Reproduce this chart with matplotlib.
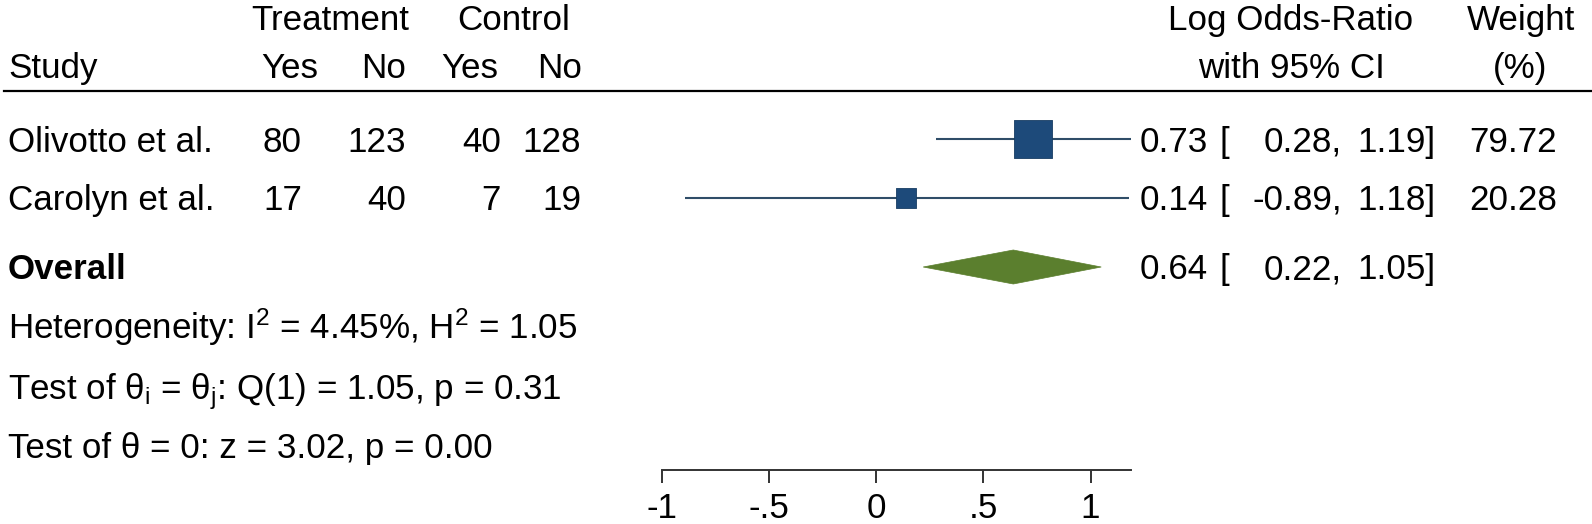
import matplotlib
matplotlib.use('Agg')
import matplotlib.pyplot as plt
from matplotlib.patches import Polygon

plt.rcParams['font.family'] = ['Liberation Sans', 'DejaVu Sans']
plt.rcParams['mathtext.fontset'] = 'custom'
plt.rcParams['mathtext.rm'] = 'Liberation Sans'
plt.rcParams['mathtext.it'] = 'Liberation Sans:italic'
plt.rcParams['mathtext.bf'] = 'Liberation Sans:bold'

# data
studies = ['Olivotto et al.', 'Carolyn et al.']
treat_yes = [80, 17]
treat_no = [123, 40]
ctrl_yes = [40, 7]
ctrl_no = [128, 19]
log_or = [0.73, 0.14]
ci_low = [0.28, -0.89]
ci_high = [1.19, 1.18]
weight = [79.72, 20.28]
overall = [0.64, 0.22, 1.05]
stats_lines = [r'Heterogeneity: I$^{2}$ = 4.45%, H$^{2}$ = 1.05',
               r'Test of θ$_{\mathrm{i}}$ = θ$_{\mathrm{j}}$: Q(1) = 1.05, p = 0.31',
               'Test of θ = 0: z = 3.02, p = 0.00']
tick_vals = [-1, -0.5, 0, 0.5, 1]
tick_labels = ['-1', '-.5', '0', '.5', '1']

# layout (pixels)
W, H = 1592, 524
x0, ppu = 876, 214.5          # pixel of 0 and pixels per unit
head_base = [30, 78]
row_y = [139, 198]
row_base = [152, 210]
over_y, over_base = 267, 279
stats_base = [339, 399, 458]
fs = 25.2
line_col = '#2f4d68'
box_col = '#1d4a7a'
dia_col = '#5b7f2e'

fig = plt.figure(figsize=(W / 100, H / 100), dpi=100)
ax = fig.add_axes([0, 0, 1, 1])
ax.set_xlim(-x0 / ppu, (W - x0) / ppu)
ax.set_ylim(H, 0)
ax.patch.set_alpha(0)
tx = fig.add_axes([0, 0, 1, 1])
tx.set_xlim(0, W)
tx.set_ylim(H, 0)
tx.axis('off')
tx.patch.set_alpha(0)

# forest marks
for i in range(len(studies)):
    ax.plot([ci_low[i], ci_high[i]], [row_y[i], row_y[i]], color=line_col, lw=1.5, solid_capstyle='butt')
ax.scatter(log_or, row_y, s=[9.4 * w for w in weight], marker='s', color=box_col,
           edgecolors='#173d63', linewidths=0.6, zorder=3)
est, lo, hi = overall
ax.add_patch(Polygon([(lo, over_y), (est, over_y - 17), (hi, over_y), (est, over_y + 17)],
                     closed=True, facecolor=dia_col, edgecolor=dia_col, lw=0.5))

# axis
for s in ['top', 'left', 'right']:
    ax.spines[s].set_visible(False)
ax.spines['bottom'].set_position(('data', 470))
ax.spines['bottom'].set_bounds(-1, max(ci_high))
ax.spines['bottom'].set_linewidth(1.4)
ax.spines['bottom'].set_color('#333333')
ax.set_yticks([])
ax.set_xticks(tick_vals, labels=tick_labels)
ax.tick_params(axis='x', length=9, width=1.4, color='#333333', pad=7, labelsize=fs)

# header
tx.text(330, head_base[0], 'Treatment', fontsize=fs, ha='center', va='baseline')
tx.text(514, head_base[0], 'Control', fontsize=fs, ha='center', va='baseline')
tx.text(8, head_base[1], 'Study', fontsize=fs, ha='left', va='baseline')
for xr, lab in zip([318, 406, 498, 582], ['Yes', 'No', 'Yes', 'No']):
    tx.text(xr, head_base[1], lab, fontsize=fs, ha='right', va='baseline')
tx.text(1291, head_base[0], 'Log Odds-Ratio', fontsize=fs, ha='center', va='baseline')
tx.text(1291, head_base[1], 'with 95% CI', fontsize=fs, ha='center', va='baseline')
tx.text(1521, head_base[0], 'Weight', fontsize=fs, ha='center', va='baseline')
tx.text(1520, head_base[1], '(%)', fontsize=fs, ha='center', va='baseline')
tx.axhline(91, xmin=4 / W, xmax=1, color='black', lw=1.6)


def ci_text(yb, e, l, h):
    tx.text(1208, yb, f'{e:.2f}', fontsize=fs, ha='right', va='baseline')
    tx.text(1220, yb, '[', fontsize=fs, ha='left', va='baseline')
    tx.text(1342, yb, f'{l:.2f},', fontsize=fs, ha='right', va='baseline')
    tx.text(1435, yb, f'{h:.2f}]', fontsize=fs, ha='right', va='baseline')


# rows
for i, name in enumerate(studies):
    yb = row_base[i]
    tx.text(8, yb, name, fontsize=fs, ha='left', va='baseline')
    for xr, v in zip([302, 406, 501, 581], [treat_yes[i], treat_no[i], ctrl_yes[i], ctrl_no[i]]):
        tx.text(xr, yb, str(v), fontsize=fs, ha='right', va='baseline')
    ci_text(yb, log_or[i], ci_low[i], ci_high[i])
    tx.text(1557, yb, f'{weight[i]:.2f}', fontsize=fs, ha='right', va='baseline')

tx.text(8, over_base, 'Overall', fontsize=fs, fontweight='bold', ha='left', va='baseline')
ci_text(over_base, est, lo, hi)

for yb, line in zip(stats_base, stats_lines):
    tx.text(8, yb, line, fontsize=fs, ha='left', va='baseline')

fig.savefig('out.png', dpi=100)
plt.close()
